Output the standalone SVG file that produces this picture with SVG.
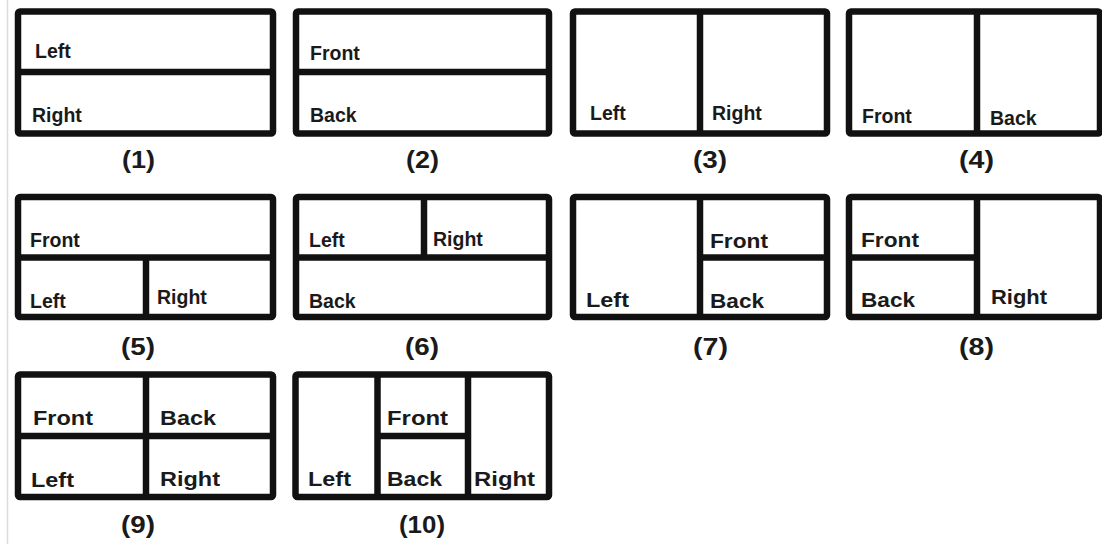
<svg xmlns="http://www.w3.org/2000/svg" width="1102" height="544" viewBox="0 0 1102 544">
<style>
.frame{fill:#fff;stroke:#111;stroke-width:6.5;stroke-linejoin:round}
.div{stroke:#111;stroke-width:6.5;fill:none}
.t{font-family:"Liberation Sans",Arial,sans-serif;font-weight:bold;font-size:19.5px;fill:#1a1a1a}
.w{font-family:"Liberation Sans",Arial,sans-serif;font-weight:bold;font-size:20px;fill:#1a1a1a}
.cap{font-family:"Liberation Sans",Arial,sans-serif;font-weight:bold;font-size:23px;fill:#1a1a1a}
</style>
<rect width="1102" height="544" fill="#fff"/>
<line x1="7.5" y1="0" x2="7.5" y2="544" stroke="#dcdcdc" stroke-width="1.5"/>

<g id="panel1">
<rect class="frame" x="18" y="11.5" width="255" height="122" rx="2"/>
<line class="div" x1="18" y1="72" x2="273" y2="72"/>
<text class="t" x="35" y="58">Left</text>
<text class="t" x="32" y="122">Right</text>
<text class="cap" x="122" y="168" textLength="33" lengthAdjust="spacingAndGlyphs">(1)</text>
</g>

<g id="panel2">
<rect class="frame" x="296" y="11.5" width="253" height="122" rx="2"/>
<line class="div" x1="296" y1="72" x2="549" y2="72"/>
<text class="t" x="310" y="60">Front</text>
<text class="t" x="310" y="122">Back</text>
<text class="cap" x="406" y="168" textLength="33" lengthAdjust="spacingAndGlyphs">(2)</text>
</g>

<g id="panel3">
<rect class="frame" x="573" y="11.5" width="254" height="122" rx="2"/>
<line class="div" x1="700" y1="11.5" x2="700" y2="133.5"/>
<text class="t" x="590" y="120">Left</text>
<text class="t" x="712" y="120">Right</text>
<text class="cap" x="693" y="168" textLength="34" lengthAdjust="spacingAndGlyphs">(3)</text>
</g>

<g id="panel4">
<rect class="frame" x="849" y="11.5" width="251" height="122" rx="2"/>
<line class="div" x1="977" y1="11.5" x2="977" y2="133.5"/>
<text class="t" x="862" y="123">Front</text>
<text class="t" x="990" y="125">Back</text>
<text class="cap" x="959" y="168" textLength="35" lengthAdjust="spacingAndGlyphs">(4)</text>
</g>

<g id="panel5">
<rect class="frame" x="18" y="197" width="255" height="120" rx="2"/>
<line class="div" x1="18" y1="257.5" x2="273" y2="257.5"/>
<line class="div" x1="146" y1="257.5" x2="146" y2="317"/>
<text class="t" x="30" y="247">Front</text>
<text class="t" x="30" y="308">Left</text>
<text class="t" x="157" y="304">Right</text>
<text class="cap" x="121" y="355" textLength="34" lengthAdjust="spacingAndGlyphs">(5)</text>
</g>

<g id="panel6">
<rect class="frame" x="296" y="197" width="253" height="120" rx="2"/>
<line class="div" x1="296" y1="257.5" x2="549" y2="257.5"/>
<line class="div" x1="424" y1="197" x2="424" y2="257.5"/>
<text class="t" x="309" y="247">Left</text>
<text class="t" x="433" y="246">Right</text>
<text class="t" x="309" y="308">Back</text>
<text class="cap" x="405" y="355" textLength="34" lengthAdjust="spacingAndGlyphs">(6)</text>
</g>

<g id="panel7">
<rect class="frame" x="573" y="197" width="254" height="120" rx="2"/>
<line class="div" x1="700" y1="197" x2="700" y2="317"/>
<line class="div" x1="700" y1="257.5" x2="827" y2="257.5"/>
<text class="w" x="586" y="307" textLength="43" lengthAdjust="spacingAndGlyphs">Left</text>
<text class="w" x="710" y="248" textLength="58" lengthAdjust="spacingAndGlyphs">Front</text>
<text class="w" x="710" y="308" textLength="54" lengthAdjust="spacingAndGlyphs">Back</text>
<text class="cap" x="693" y="355" textLength="35" lengthAdjust="spacingAndGlyphs">(7)</text>
</g>

<g id="panel8">
<rect class="frame" x="849" y="197" width="251" height="120" rx="2"/>
<line class="div" x1="977" y1="197" x2="977" y2="317"/>
<line class="div" x1="849" y1="257.5" x2="977" y2="257.5"/>
<text class="w" x="861" y="247" textLength="58" lengthAdjust="spacingAndGlyphs">Front</text>
<text class="w" x="861" y="307" textLength="54" lengthAdjust="spacingAndGlyphs">Back</text>
<text class="w" x="991" y="304" textLength="56" lengthAdjust="spacingAndGlyphs">Right</text>
<text class="cap" x="959" y="355" textLength="35" lengthAdjust="spacingAndGlyphs">(8)</text>
</g>

<g id="panel9">
<rect class="frame" x="18" y="374.5" width="255" height="122.5" rx="2"/>
<line class="div" x1="18" y1="436" x2="273" y2="436"/>
<line class="div" x1="146" y1="374.5" x2="146" y2="497"/>
<text class="w" x="33" y="425" textLength="60" lengthAdjust="spacingAndGlyphs">Front</text>
<text class="w" x="160" y="425" textLength="56" lengthAdjust="spacingAndGlyphs">Back</text>
<text class="w" x="31" y="487" textLength="43" lengthAdjust="spacingAndGlyphs">Left</text>
<text class="w" x="160" y="486" textLength="60" lengthAdjust="spacingAndGlyphs">Right</text>
<text class="cap" x="121" y="533" textLength="34" lengthAdjust="spacingAndGlyphs">(9)</text>
</g>

<g id="panel10">
<rect class="frame" x="295.5" y="374.5" width="253.5" height="122.5" rx="2"/>
<line class="div" x1="377.5" y1="374.5" x2="377.5" y2="497"/>
<line class="div" x1="468" y1="374.5" x2="468" y2="497"/>
<line class="div" x1="377.5" y1="436" x2="468" y2="436"/>
<text class="w" x="308" y="486" textLength="43" lengthAdjust="spacingAndGlyphs">Left</text>
<text class="w" x="387" y="425" textLength="61" lengthAdjust="spacingAndGlyphs">Front</text>
<text class="w" x="387" y="486" textLength="55" lengthAdjust="spacingAndGlyphs">Back</text>
<text class="w" x="474" y="486" textLength="61" lengthAdjust="spacingAndGlyphs">Right</text>
<text class="cap" x="399" y="533" textLength="46" lengthAdjust="spacingAndGlyphs">(10)</text>
</g>
</svg>
